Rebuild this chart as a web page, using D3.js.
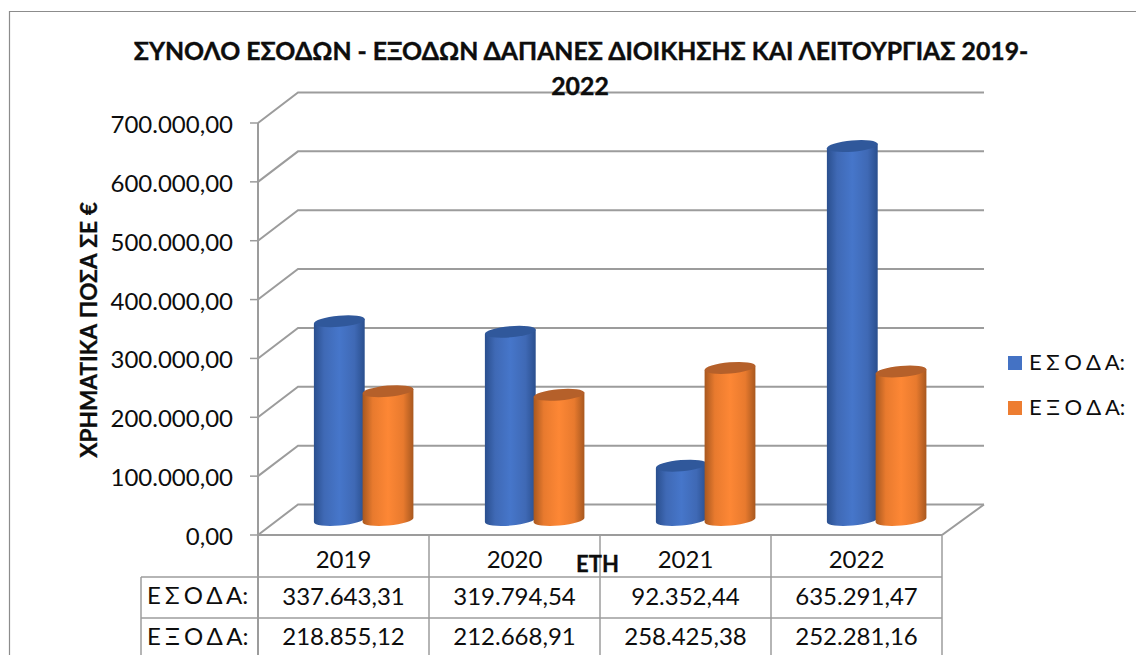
<!DOCTYPE html>
<html><head><meta charset="utf-8">
<script src="https://cdnjs.cloudflare.com/ajax/libs/d3/7.8.5/d3.min.js"></script>
<style>html,body{margin:0;padding:0;background:#fff;overflow:hidden}svg{display:block}text{font-family:Lato,"Open Sans","Noto Sans",sans-serif;fill:#0d0d0d}</style>
</head><body><svg id="c" width="1136" height="655"></svg>
<script>
const years = ["2019","2020","2021","2022"];
const seriesNames = ["Ε Σ Ο Δ Α:","Ε Ξ Ο Δ Α:"];
const esoda = [337643.31,319794.54,92352.44,635291.47];
const exoda = [218855.12,212668.91,258425.38,252281.16];
const esodaLabels = ["337.643,31","319.794,54","92.352,44","635.291,47"];
const exodaLabels = ["218.855,12","212.668,91","258.425,38","252.281,16"];
const yTicks = [0,100000,200000,300000,400000,500000,600000,700000];
const titleLines = ["ΣΥΝΟΛΟ ΕΣΟΔΩΝ - ΕΞΟΔΩΝ ΔΑΠΑΝΕΣ ΔΙΟΙΚΗΣΗΣ ΚΑΙ ΛΕΙΤΟΥΡΓΙΑΣ 2019-","2022"];
const yTitle = "ΧΡΗΜΑΤΙΚΑ ΠΟΣΑ ΣΕ €";
const xTitle = "ΕΤΗ";
const colors = {blue:["#2a4f8e","#3f69b5","#4676ca","#3f69b5","#2a4f8e","#30589b"],orange:["#a8581f","#e87a2e","#fd8735","#e87a2e","#a8581f","#b5602a"]};

const svg = d3.select("#c");
const grid="#9c9c9c";
const y = d3.scaleLinear().domain([0,700000]).range([535,123]);
const x = d3.scaleBand().domain(years).range([258,942]);
const inner = d3.scalePoint().domain([0,1]).range([81.3,130]);
const dx=40, dy=-30.5, rx=25.5, ry=5.6, tilt=-5, floorDrop=15;

// outer frame
svg.append("path").attr("d","M9.5,655V11.5H1136").attr("fill","none").attr("stroke","#8c8c8c").attr("stroke-width",1.2);

// walls
const g=svg.append("g").attr("fill","none").attr("stroke",grid).attr("stroke-width",2);
g.selectAll(".gl").data(yTicks).join("path")
 .attr("d",d=>`M${x.range()[0]},${y(d)}L${x.range()[0]+dx},${y(d)+dy}H984`);
g.append("path").attr("d",`M984,${y(0)+dy}L${x.range()[1]},${y(0)}H${x.range()[0]}`);
g.append("path").attr("d",`M${x.range()[0]},${y(700000)}V655`);
g.selectAll(".tk").data(yTicks).join("path").attr("stroke-width",1.5).attr("d",d=>`M250,${y(d)}H258`);

// gradients
const defs=svg.append("defs");
const stops=[0,.2,.5,.8,1];
[["blue",colors.blue],["orange",colors.orange]].forEach(([n,c])=>{
 const lg=defs.append("linearGradient").attr("id","g"+n);
 stops.forEach((o,i)=>lg.append("stop").attr("offset",o).attr("stop-color",c[i]));
});

// cylinders
const flat=[];
years.forEach((yr,i)=>{flat.push({yr,s:0,v:esoda[i],k:"blue"});flat.push({yr,s:1,v:exoda[i],k:"orange"});});
const rad=tilt*Math.PI/180, ex=rx*Math.cos(rad), ey=rx*Math.sin(rad);
const cyl=svg.append("g").selectAll("g").data(flat).join("g");
cyl.append("path").attr("fill",d=>`url(#g${d.k})`).attr("d",d=>{
 const cx=x(d.yr)+inner(d.s), t=y(d.v)-floorDrop, b=y(0)-floorDrop;
 return `M${cx-ex},${t-ey}L${cx-ex},${b-ey}A${rx},${ry},${tilt},0,0,${cx+ex},${b+ey}L${cx+ex},${t+ey}Z`;
});
cyl.append("ellipse").attr("fill",d=>colors[d.k][5])
 .attr("rx",rx).attr("ry",ry)
 .attr("transform",d=>`translate(${x(d.yr)+inner(d.s)},${y(d.v)-floorDrop}) rotate(${tilt})`);

// y tick labels
svg.append("g").selectAll("text").data(yTicks).join("text")
 .attr("x",233).attr("y",d=>y(d)+10).attr("text-anchor","end").attr("font-size",24)
 .text(d=>d3.format(",.2f")(d).replace(/,/g,"#").replace(".",",").replace(/#/g,"."));

// table
const rowsY=[577,618], colEdges=x.domain().map(d=>x(d)+x.bandwidth());
const t=svg.append("g").attr("fill","none").attr("stroke",grid).attr("stroke-width",1.5);
t.selectAll(".c").data(colEdges).join("path").attr("d",d=>`M${d},536V655`);
t.selectAll(".r").data(rowsY).join("path").attr("d",d=>`M141,${d}H942`);
t.append("path").attr("d","M141,577V655");
const tt=svg.append("g").attr("text-anchor","middle").attr("font-size",24);
tt.selectAll(".y").data(years).join("text").attr("x",d=>x(d)+x.bandwidth()/2).attr("y",568).text(d=>d);
tt.selectAll(".a").data(esodaLabels).join("text").attr("x",(d,i)=>x(years[i])+x.bandwidth()/2).attr("y",605).text(d=>d);
tt.selectAll(".b").data(exodaLabels).join("text").attr("x",(d,i)=>x(years[i])+x.bandwidth()/2).attr("y",645).text(d=>d);
svg.append("g").selectAll("text").data(seriesNames).join("text").attr("x",147).attr("y",(d,i)=>[604,645][i]).attr("font-size",24).attr("word-spacing",-2).text(d=>d);

// legend
const lg=svg.append("g").selectAll("g").data(seriesNames).join("g").attr("transform",(d,i)=>`translate(1008,${[356,401][i]})`);
lg.append("rect").attr("width",14).attr("height",14).attr("fill",(d,i)=>["#4472c4","#ed7d31"][i]);
lg.append("text").attr("x",21).attr("y",14).attr("font-size",22).attr("word-spacing",-1).text(d=>d);

// titles
svg.append("g").selectAll("text").data(titleLines).join("text").attr("x",(d,i)=>[581,580][i]).attr("y",(d,i)=>[60,95][i])
 .attr("text-anchor","middle").attr("font-size",24.8).attr("font-weight",700).attr("stroke","#0d0d0d").attr("stroke-width",.4).text(d=>d);
svg.append("text").attr("transform","translate(97,330) rotate(-90)").attr("text-anchor","middle").attr("font-size",22.7).attr("font-weight",700).attr("stroke","#0d0d0d").attr("stroke-width",.3).text(yTitle);
svg.append("text").attr("x",597.5).attr("y",572).attr("text-anchor","middle").attr("font-size",22).attr("font-weight",700).attr("stroke","#0d0d0d").attr("stroke-width",.3).text(xTitle);
</script></body></html>
